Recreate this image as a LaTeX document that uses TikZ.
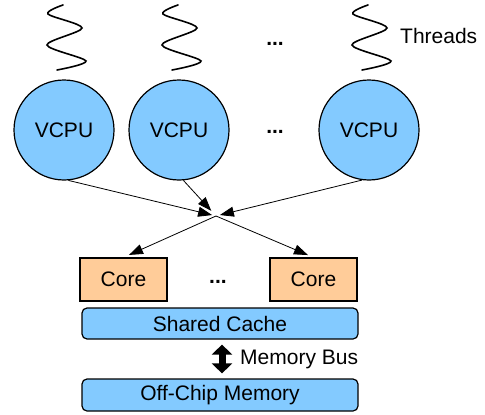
\documentclass[tikz,border=0pt]{standalone}
\usepackage{fontspec}
\setmainfont{Liberation Sans}
\usetikzlibrary{arrows.meta}
\definecolor{vcpublue}{RGB}{131,202,255}
\definecolor{coreorange}{RGB}{255,204,153}
\tikzset{
  vcpu/.style={circle, draw, line width=1.2pt, fill=vcpublue, minimum size=100pt, inner sep=0pt},
  corebox/.style={rectangle, draw, line width=1.2pt, fill=coreorange, minimum width=87pt, minimum height=43pt, inner sep=0pt},
  membox/.style={rectangle, rounded corners=5pt, draw, line width=1.2pt, fill=vcpublue, minimum width=276pt, minimum height=31pt, inner sep=0pt},
  link/.style={line width=0.8pt, -{Triangle[length=14pt,width=10pt]}},
  thread/.style={line width=1.6pt, line cap=round},
}
\begin{document}
\begin{tikzpicture}[x=1pt,y=-1pt]
            \useasboundingbox (0,0) rectangle (485,415);
            {\fontsize{21}{25}\selectfont

            % Drawing thread 1
            \draw [thread] plot [smooth] coordinates {(63,5) (48,14) (82,28) (47,45) (86,61) (57,70)};%

            % Drawing thread 2
            \draw [thread] plot [smooth] coordinates {(178,5) (163,14) (197,28) (162,45) (201,61) (172,70)};%

            % Drawing thread 3
            \draw [thread] plot [smooth] coordinates {(368,5) (353,14) (387,28) (352,45) (391,61) (362,70)};%

            \node (dotsthreads) at (275,44) {\textbf{...}};%
            \node (threads) [anchor=base west, inner sep=0pt] at (400,43) {Threads};%

            % Marking the VCPUs
            \node (vcpua) [vcpu] at (64,130) {VCPU};%
            \node (vcpub) [vcpu] at (179,130) {VCPU};%
            \node (vcpuc) [vcpu] at (369,130) {VCPU};%
            \node (dotsvcpu) at (275,132) {\textbf{...}};%

            % Marking the cores
            \node (corea) [corebox] at (123.5,279.5) {Core};%
            \node (coreb) [corebox] at (313.5,279.5) {Core};%
            \node (dotscore) at (218,282) {\textbf{...}};%

            % Drawing the mapping
            \coordinate (hub) at (216,216);%
            \draw [link, shorten >=4pt] (vcpua.-85) -- (hub);%
            \draw [link, shorten >=7pt] (vcpub.-85) -- (hub);%
            \draw [link, shorten >=4pt] (vcpuc.-98) -- (hub);%
            \draw [link, shorten >=6pt] (hub) -- (corea.north);%
            \draw [link, shorten >=6pt] (hub) -- (coreb.north);%

            % Marking cache and memory
            \node (cache) [membox] at (220,323.5) {Shared Cache};%
            \node (memory) [membox, minimum height=32pt] at (220,395) {Off-Chip Memory};%
            \draw [line width=7pt, {Triangle[length=10pt,width=20pt]}-{Triangle[length=10pt,width=20pt]}, shorten <=5pt, shorten >=5pt] ([xshift=2pt]cache.south) -- ([xshift=2pt]memory.north);%
            \node (bus) [anchor=west, inner sep=0pt] at (240,359) {Memory Bus};%
            }
        \end{tikzpicture}
\end{document}
